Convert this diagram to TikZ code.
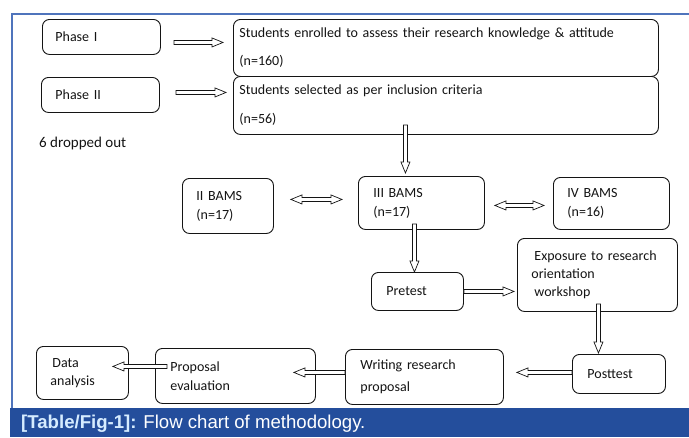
\documentclass[tikz,border=0pt]{standalone}
\usepackage{fontspec}
\setmainfont{Carlito}
\newfontfamily\capfont{Liberation Sans}
\usetikzlibrary{calc}
\definecolor{frameblue}{HTML}{4F74BC}
\definecolor{barblue}{HTML}{244E9C}
\definecolor{labelblue}{HTML}{D6ECFF}
\definecolor{ink}{HTML}{141414}
\tikzset{
  box/.style={draw=ink, line width=0.9pt, rounded corners=7pt, fill=white,
    anchor=north west, align=left, inner ysep=0pt, text=ink,
    font=\fontsize{14}{17}\selectfont},
  blk/.style={draw=ink, line width=0.7pt, fill=white, line join=miter},
}
\newcommand\sarrow[2]{%
  \draw[blk] let \p1=(#1), \p2=(#2), \n1={atan2(\y2-\y1,\x2-\x1)},
    \n2={veclen(\x2-\x1,\y2-\y1)} in
    ([shift={(\p1)},rotate=\n1]0pt,2pt) -- ([shift={(\p1)},rotate=\n1]\n2-11pt,2pt)
    -- ([shift={(\p1)},rotate=\n1]\n2-11pt,4.5pt) -- ([shift={(\p1)},rotate=\n1]\n2,0pt)
    -- ([shift={(\p1)},rotate=\n1]\n2-11pt,-4.5pt) -- ([shift={(\p1)},rotate=\n1]\n2-11pt,-2pt)
    -- ([shift={(\p1)},rotate=\n1]0pt,-2pt) -- cycle;}
\newcommand\darrow[2]{%
  \draw[blk] let \p1=(#1), \p2=(#2), \n1={atan2(\y2-\y1,\x2-\x1)},
    \n2={veclen(\x2-\x1,\y2-\y1)} in
    ([shift={(\p1)},rotate=\n1]0pt,0pt) -- ([shift={(\p1)},rotate=\n1]11pt,4.5pt)
    -- ([shift={(\p1)},rotate=\n1]11pt,2pt) -- ([shift={(\p1)},rotate=\n1]\n2-11pt,2pt)
    -- ([shift={(\p1)},rotate=\n1]\n2-11pt,4.5pt) -- ([shift={(\p1)},rotate=\n1]\n2,0pt)
    -- ([shift={(\p1)},rotate=\n1]\n2-11pt,-4.5pt) -- ([shift={(\p1)},rotate=\n1]\n2-11pt,-2pt)
    -- ([shift={(\p1)},rotate=\n1]11pt,-2pt) -- ([shift={(\p1)},rotate=\n1]11pt,-4.5pt)
    -- cycle;}
\begin{document}
\begin{tikzpicture}[x=1pt,y=-1pt]
\useasboundingbox (0,0) rectangle (689,437);
\fill[white] (0,0) rectangle (689,437);
% frame
\draw[frameblue, line width=1.2pt] (12,408) -- (12,14) -- (689,14);
\fill[barblue] (10,408) rectangle (689,437);
\node[anchor=west, inner sep=0pt, font=\capfont\fontsize{18.6}{20}\selectfont] (cap) at (21,423.5)
  {\textcolor{labelblue}{\bfseries [Table/Fig-1]:} \textcolor{white}{Flow chart of methodology.}};
% boxes
\node[box, minimum width=118pt, minimum height=35pt, text width=92pt, inner xsep=13pt] (p1) at (42,19) {Phase I};
\node[box, minimum width=118pt, minimum height=35pt, text width=90pt, inner xsep=14pt] (p2) at (41,77) {Phase II};
\node[box, minimum width=425pt, minimum height=57pt, text width=413pt, inner xsep=6pt] (enr) at (233,19)
  {Students enrolled to assess their research knowledge \& attitude\\[11pt](n=160)};
\node[box, minimum width=425pt, minimum height=58pt, text width=413pt, inner xsep=6pt] (sel) at (233,76)
  {Students selected as per inclusion criteria\\[12pt](n=56)};
\node[anchor=west, inner sep=0pt, text=ink, font=\fontsize{15}{18}\selectfont] (drop) at (39,143) {6 dropped out};
\node[box, minimum width=91pt, minimum height=55pt, text width=63pt, inner xsep=14pt] (b2) at (182,178) {II BAMS\\[2pt](n=17)};
\node[box, minimum width=126pt, minimum height=53pt, text width=96pt, inner xsep=15pt] (b3) at (358,176) {III BAMS\\[2pt](n=17)};
\node[box, minimum width=116pt, minimum height=52pt, text width=88pt, inner xsep=14pt] (b4) at (553,177) {IV BAMS\\[2pt](n=16)};
\node[box, minimum width=92pt, minimum height=38pt, text width=62pt, inner xsep=15pt] (pre) at (371,272) {Pretest\\[5pt]};
\node[box, minimum width=160pt, minimum height=73pt, text width=132pt, inner xsep=14pt] (exp) at (517,238)
  {\hspace*{3pt}Exposure to research\\[1pt]orientation\\[1pt]\hspace*{3pt}workshop};
\node[box, minimum width=93pt, minimum height=39pt, text width=63pt, inner xsep=15pt] (post) at (572,354) {Posttest\\[1pt]};
\node[box, minimum width=158pt, minimum height=55pt, text width=128pt, inner xsep=15pt] (wri) at (345,349) {Writing research\\[5pt]proposal};
\node[box, minimum width=160pt, minimum height=55pt, text width=130pt, inner xsep=15pt] (prop) at (155,348) {Proposal\\[2pt]evaluation};
\node[box, minimum width=92pt, minimum height=53pt, text width=64pt, inner xsep=14pt] (data) at (36,346) {\hspace*{2pt}Data\\[1pt]analysis};
% arrow end points
\coordinate (a1s) at ($(p1.east)+(13,5.5)$);   \coordinate (a1e) at ($(enr.west)+(-10,-5.5)$);
\coordinate (a2s) at ($(p2.east)+(16,-2.5)$);  \coordinate (a2e) at ($(sel.west)+(-7,-13)$);
\coordinate (a3s) at ($(sel.south)+(-40.5,-10)$); \coordinate (a3e) at ($(b3.north)+(-16,-3)$);
\coordinate (d1s) at ($(b2.east)+(17,-6.5)$);  \coordinate (d1e) at ($(b3.west)+(-16,-3.5)$);
\coordinate (d2s) at ($(b3.east)+(10,2.5)$);   \coordinate (d2e) at ($(b4.west)+(-9,2)$);
\coordinate (a4s) at ($(b3.south)+(-7,-6)$);   \coordinate (a4e) at ($(pre.north)+(-3,0)$);
\coordinate (a5s) at ($(pre.east)+(0,0)$);     \coordinate (a5e) at ($(exp.west)+(-3,16.5)$);
\coordinate (a6s) at ($(exp.south)+(1,-8)$);   \coordinate (a6e) at ($(post.north)+(-20.5,-1)$);
\coordinate (a7s) at ($(post.west)+(0,-1.5)$); \coordinate (a7e) at ($(wri.east)+(13,-4.5)$);
\coordinate (a8s) at ($(wri.west)+(0,-4.5)$);  \coordinate (a8e) at ($(prop.east)+(-22,-3.5)$);
\coordinate (a9s) at ($(prop.west)+(12,-9.5)$); \coordinate (a9e) at ($(data.east)+(-16,-6.5)$);
% arrows
\sarrow{a1s}{a1e}
\sarrow{a2s}{a2e}
\sarrow{a3s}{a3e}
\darrow{d1s}{d1e}
\darrow{d2s}{d2e}
\sarrow{a4s}{a4e}
\sarrow{a5s}{a5e}
\sarrow{a6s}{a6e}
\sarrow{a7s}{a7e}
\sarrow{a8s}{a8e}
\sarrow{a9s}{a9e}
\end{tikzpicture}
\end{document}
